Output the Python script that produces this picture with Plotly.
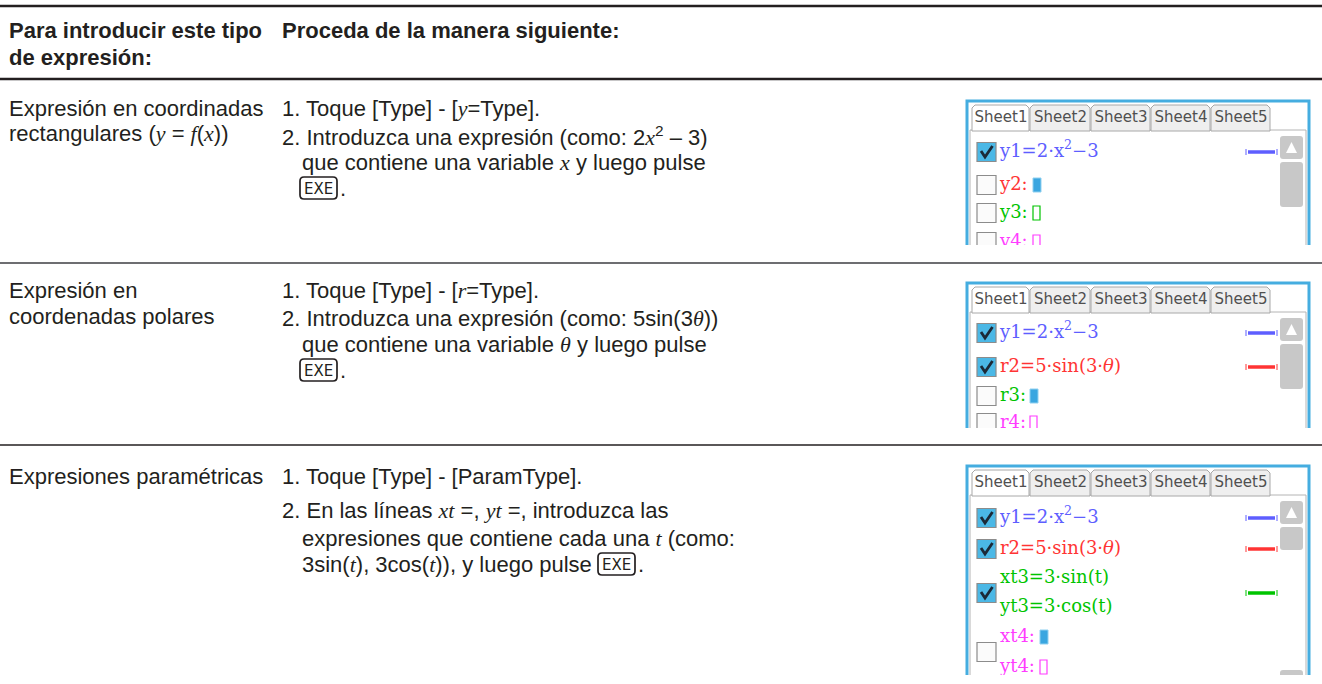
import plotly.graph_objects as go

W, H = 1322, 684
INK = "#231f20"
SANS = "Liberation Sans, Arial, sans-serif"
CALC = "DejaVu Serif, serif"
TABF = "DejaVu Sans, sans-serif"
BLUE, RED, GREEN, MAG = "#5e5eff", "#ff3434", "#00c400", "#ff3cff"
PANEL_BLUE = "#45ade0"


def it(s):
    return f'<span style="font-family:Liberation Serif"><i>{s}</i></span>'


# ---------------- text content ----------------
header_col1 = ["<b>Para introducir este tipo</b>", "<b>de expresión:</b>"]
header_col2 = ["<b>Proceda de la manera siguiente:</b>"]

row_labels = [
    ["Expresión en coordinadas", f"rectangulares ({it('y')} = {it('f')}({it('x')}))"],
    ["Expresión en", "coordenadas polares"],
    ["Expresiones paramétricas"],
]
row_steps = [
    [f"1. Toque [Type] - [{it('y')}=Type].",
     f"2. Introduzca una expresión (como: 2{it('x')}<sup>2</sup> – 3)",
     f"que contiene una variable {it('x')} y luego pulse"],
    [f"1. Toque [Type] - [{it('r')}=Type].",
     f"2. Introduzca una expresión (como: 5sin(3{it('θ')}))",
     f"que contiene una variable {it('θ')} y luego pulse"],
    ["1. Toque [Type] - [ParamType].",
     f"2. En las líneas {it('xt')} =, {it('yt')} =, introduzca las",
     f"expresiones que contiene cada una {it('t')} (como:",
     f"3sin({it('t')}), 3cos({it('t')})), y luego pulse"],
]
key_label = "EXE"
tab_labels = ["Sheet1", "Sheet2", "Sheet3", "Sheet4", "Sheet5"]

# calculator screens: (text, colour)
screen_lines = [
    [("y1=2·x<sup>2</sup>−3", BLUE), ("y2:", RED), ("y3:", GREEN), ("y4:", MAG)],
    [("y1=2·x<sup>2</sup>−3", BLUE), ("r2=5·sin(3·<i>θ</i>)", RED), ("r3:", GREEN), ("r4:", MAG)],
    [("y1=2·x<sup>2</sup>−3", BLUE), ("r2=5·sin(3·<i>θ</i>)", RED),
     ("xt3=3·sin(t)", GREEN), ("yt3=3·cos(t)", GREEN),
     ("xt4:", MAG), ("yt4:", MAG)],
]
screen_style_marks = [[BLUE], [BLUE, RED], [BLUE, RED, GREEN]]

# ---------------- layout geometry ----------------
COL1_X, COL2_X, COL2_IND = 7, 280, 300
FS = 22
head_y = [30, 57]
label_y = [[108, 133], [290, 316], [476]]
step_y = [[108, 136, 162], [290, 318, 344], [476, 510, 538, 564]]
key_pos = [(300, 188), (300, 370), (598, 564)]
rule_y = [(6, 2.6, INK), (79, 2.6, INK), (263, 2.2, "#6d6e71"), (445, 1.4, INK)]

PX0, PX1 = 967, 1309
panel_top = [101, 283, 466]
panel_bot = [245, 428, 675]
line_off = [[51, 84, 112, 141], [50, 84, 113, 140], [52, 83, 112, 141, 171, 201]]
box_off = [[51, 84, 112, 141], [50, 84, 113, 140], [52, 83, 127, 186]]
box_chk = [[1, 0, 0, 0], [1, 1, 0, 0], [1, 1, 1, 0]]
mark_off = [[51], [50, 84], [52, 83, 127]]
cursor = [[(84, "fill", BLUE), (112, "open", GREEN), (141, "open", MAG)],
          [(113, "fill", GREEN), (140, "open", MAG)],
          [(171, "fill", MAG), (201, "open", MAG)]]
cursor_x = [[1033, 1033, 1033], [1030, 1030], [1040, 1040]]
thumb = [(61, 106), (61, 106), (61, 84)]
tab_x = [972, 1030, 1091, 1151, 1211, 1271]

fig = go.Figure()
shapes = []
ann = []


def rrect(x0, y0, x1, y1, r):
    return (f"M{x0+r},{y0} L{x1-r},{y0} Q{x1},{y0} {x1},{y0+r} L{x1},{y1-r} "
            f"Q{x1},{y1} {x1-r},{y1} L{x0+r},{y1} Q{x0},{y1} {x0},{y1-r} "
            f"L{x0},{y0+r} Q{x0},{y0} {x0+r},{y0} Z")


def text(x, y, s, size=FS, color=INK, family=SANS):
    ann.append(dict(x=x, y=y, xref="x", yref="y", text=s, showarrow=False,
                    xanchor="left", yanchor="middle", align="left",
                    font=dict(family=family, size=size, color=color)))


# rules
for y, w, c in rule_y[:2]:
    shapes.append(dict(type="line", x0=0, x1=W, y0=y, y1=y, xref="x", yref="y",
                       line=dict(color=c, width=w), layer="above"))

# header
for s, y in zip(header_col1, head_y):
    text(COL1_X, y, s)
text(COL2_X, head_y[0], header_col2[0])

# rows
for r in range(3):
    for s, y in zip(row_labels[r], label_y[r]):
        text(COL1_X, y, s)
    for i, (s, y) in enumerate(zip(row_steps[r], step_y[r])):
        x = COL2_X if s[:2] in ("1.", "2.") else COL2_IND
        text(x, y, s)
    kx, ky = key_pos[r]
    shapes.append(dict(type="path", path=rrect(kx, ky - 11, kx + 37, ky + 11, 4),
                       xref="x", yref="y", line=dict(color=INK, width=1.7),
                       fillcolor="white", layer="above"))
    ann.append(dict(x=kx + 18.5, y=ky + 1, xref="x", yref="y", text=key_label, showarrow=False,
                    xanchor="center", yanchor="middle",
                    font=dict(family="DejaVu Sans", size=15, color=INK)))
    text(kx + 38, ky, ".")

# calculator screens
for p in range(3):
    t, b = panel_top[p], panel_bot[p]
    # frame (below traces)
    shapes.append(dict(type="rect", x0=PX0, x1=PX1, y0=t, y1=b + 20, xref="x", yref="y",
                       line=dict(color=PANEL_BLUE, width=3), fillcolor="white", layer="below"))
    shapes.append(dict(type="rect", x0=PX0 + 3, x1=PX1 - 3, y0=t + 29, y1=b + 20, xref="x", yref="y",
                       line=dict(color="#b4b4b4", width=1), fillcolor="white", layer="below"))
    # tabs
    for k in range(5):
        x0, x1 = tab_x[k], tab_x[k + 1] - 1
        shapes.append(dict(type="path",
                           path=f"M{x0},{t+30} L{x0},{t+7} L{x0+3},{t+4} L{x1-3},{t+4} L{x1},{t+7} L{x1},{t+30} Z",
                           xref="x", yref="y", line=dict(color="#a8a8a8", width=1),
                           fillcolor="white" if k == 0 else "#efefef", layer="below"))
    # scrollbar
    sx0, sx1 = 1280, 1303
    shapes.append(dict(type="path", path=rrect(sx0, t + 35, sx1, t + 58, 3), xref="x", yref="y",
                       line=dict(width=0), fillcolor="#c8c8c8", layer="above"))
    shapes.append(dict(type="path",
                       path=f"M{sx0+6},{t+52} L{sx1-6},{t+52} L{(sx0+sx1)/2},{t+41} Z",
                       xref="x", yref="y", line=dict(width=0), fillcolor="white", layer="above"))
    th0, th1 = thumb[p]
    shapes.append(dict(type="path", path=rrect(sx0, t + th0, sx1, t + th1, 3), xref="x", yref="y",
                       line=dict(width=0), fillcolor="#c8c8c8", layer="above"))
    if p == 2:
        shapes.append(dict(type="path", path=rrect(sx0, t + 204, sx1, t + 227, 3), xref="x", yref="y",
                           line=dict(width=0), fillcolor="#c8c8c8", layer="above"))
    # checkboxes
    for off, chk in zip(box_off[p], box_chk[p]):
        cy = t + off
        shapes.append(dict(type="rect", x0=977, x1=996, y0=cy - 9.5, y1=cy + 9.5, xref="x", yref="y",
                           line=dict(color="#8c8c8c", width=1.2),
                           fillcolor="#4bb8e6" if chk else "#fbfbfb", layer="above"))
        if chk:
            shapes.append(dict(type="path",
                               path=f"M{981},{cy-1} L{985},{cy+5} L{992.5},{cy-6}",
                               xref="x", yref="y", line=dict(color="#1c2a38", width=2.8),
                               layer="above"))
    # style marks
    for off, col in zip(mark_off[p], screen_style_marks[p]):
        cy = t + off
        shapes.append(dict(type="line", x0=1248, x1=1275, y0=cy, y1=cy, xref="x", yref="y",
                           line=dict(color=col, width=3.5), layer="above"))
        for bx in (1246, 1277):
            shapes.append(dict(type="line", x0=bx, x1=bx, y0=cy - 3, y1=cy + 3, xref="x", yref="y",
                               line=dict(color=col, width=1), layer="above"))
    # cursors
    for (off, kind, col), cx in zip(cursor[p], cursor_x[p]):
        cy = t + off
        if kind == "fill":
            shapes.append(dict(type="rect", x0=cx, x1=cx + 8, y0=cy - 7, y1=cy + 7, xref="x", yref="y",
                               line=dict(color="#8fd0f0", width=1), fillcolor="#3aa6e0", layer="above"))
        else:
            shapes.append(dict(type="rect", x0=cx, x1=cx + 7, y0=cy - 7, y1=cy + 7, xref="x", yref="y",
                               line=dict(color=col, width=1.2), fillcolor="rgba(0,0,0,0)", layer="above"))
    # cover below screen (clips cut-off content)
    shapes.append(dict(type="rect", x0=PX0 - 3, x1=PX1 + 3, y0=b, y1=b + 24, xref="x", yref="y",
                       line=dict(width=0), fillcolor="white", layer="above"))

# row rules above covers
for y, w, c in rule_y[2:]:
    shapes.append(dict(type="line", x0=0, x1=W, y0=y, y1=y, xref="x", yref="y",
                       line=dict(color=c, width=w), layer="above"))

# screen text as traces (so the cover shapes can clip cut-off lines)
for p in range(3):
    t = panel_top[p]
    ys = [t + o for o in line_off[p]]
    fig.add_trace(go.Scatter(x=[1000] * len(ys), y=ys, mode="text",
                             text=[l[0] for l in screen_lines[p]],
                             textposition="middle right",
                             textfont=dict(family=CALC, size=18, color=[l[1] for l in screen_lines[p]]),
                             hoverinfo="skip", showlegend=False, cliponaxis=False))
    fig.add_trace(go.Scatter(x=[(tab_x[k] + tab_x[k + 1]) / 2 for k in range(5)], y=[t + 17] * 5,
                             mode="text", text=tab_labels, textposition="middle center",
                             textfont=dict(family=TABF, size=15, color="#505050"),
                             hoverinfo="skip", showlegend=False, cliponaxis=False))

fig.update_layout(
    width=W, height=H, margin=dict(l=0, r=0, t=0, b=0),
    paper_bgcolor="white", plot_bgcolor="white",
    xaxis=dict(range=[0, W], visible=False, fixedrange=True),
    yaxis=dict(range=[H, 0], visible=False, fixedrange=True),
    shapes=shapes, annotations=ann, showlegend=False,
)
fig.write_html("out.html", config={"displayModeBar": False},
               post_script="document.body.style.margin='0';")
